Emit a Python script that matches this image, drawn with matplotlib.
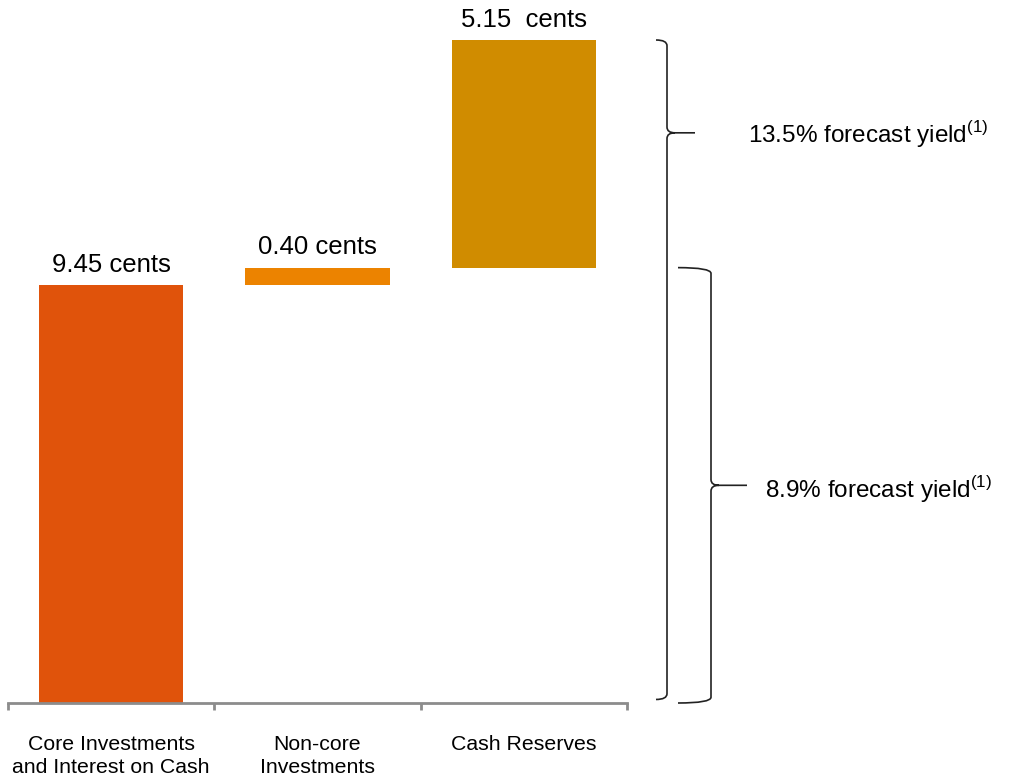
import matplotlib
matplotlib.use("Agg")
import matplotlib.pyplot as plt
from matplotlib.path import Path
from matplotlib.patches import PathPatch
from matplotlib.transforms import blended_transform_factory

plt.rcParams['font.family'] = ['Liberation Sans', 'DejaVu Sans']
plt.rcParams['mathtext.fontset'] = 'custom'
plt.rcParams['mathtext.rm'] = 'Liberation Sans'

# data
categories = ["Core Investments\nand Interest on Cash", "Non-core\nInvestments", "Cash Reserves"]
values = [9.45, 0.40, 5.15]
value_labels = ["9.45 cents", "0.40 cents", "5.15  cents"]
colors = ["#E0530B", "#EC8300", "#D08C00"]
yield_labels = ["13.5% forecast yield", "8.9% forecast yield"]

W, H = 1009, 776
fig = plt.figure(figsize=(W / 100, H / 100), dpi=100)
ax = fig.add_axes([8 / W, (H - 703) / H, 619 / W, 703 / H])

bottoms = [0, values[0], values[0] + values[1]]
x = range(len(values))
bars = ax.bar(x, values, bottom=bottoms, width=0.70, color=colors)

for i, (b, v, lab) in enumerate(zip(bottoms, values, value_labels)):
    ax.annotate(lab, (i, b + v), xytext=(0, 6), textcoords="offset points",
                ha="center", va="bottom", fontsize=18.5)

ax.set_xlim(-0.5, 2.5)
ax.set_ylim(0, 703 / 44.2)
ax.set_yticks([])
for s in ["top", "right", "left"]:
    ax.spines[s].set_visible(False)
ax.spines["bottom"].set_color("#8C8C8C")
ax.spines["bottom"].set_linewidth(2)
ax.set_xticks(list(x))
ax.set_xticklabels(categories, fontsize=15.3, linespacing=1.3)
ax.tick_params(axis="x", which="major", length=0, pad=23)
ax.set_xticks([-0.5, 0.5, 1.5, 2.5], minor=True)
ax.tick_params(axis="x", which="minor", length=5, width=2, color="#8C8C8C", direction="out")

# curly braces: x in figure pixels, y in data
tr = blended_transform_factory(fig.transFigure, ax.transData)


def brace(x0, x1, x2, ytop, ymid, ybot, r=0.13, d=8):
    x0, x1, x2, xd = x0 / W, x1 / W, x2 / W, (x1 + d) / W
    verts = [(x0, ytop), (x1, ytop), (x1, ytop - r),
             (x1, ymid + r), (x1, ymid), (xd, ymid),
             (x2, ymid),
             (xd, ymid), (x1, ymid), (x1, ymid - r),
             (x1, ybot + r), (x1, ybot), (x0, ybot)]
    codes = [Path.MOVETO, Path.CURVE3, Path.CURVE3,
             Path.LINETO, Path.CURVE3, Path.CURVE3,
             Path.LINETO,
             Path.MOVETO, Path.CURVE3, Path.CURVE3,
             Path.LINETO, Path.CURVE3, Path.CURVE3]
    fig.add_artist(PathPatch(Path(verts, codes), transform=tr, fill=False,
                             lw=1.2, edgecolor="#222222"))


total = sum(values)
core = values[0] + values[1]
brace(656, 667, 695, total, 12.9, 0.08)
brace(678, 711, 747, core, core / 2, 0.0)

fig.text(748 / W, 12.87, yield_labels[0] + r"$^{\mathrm{(1)}}$", transform=tr,
         fontsize=17.5, va="center", ha="left")
fig.text(765 / W, core / 2 - 0.1, yield_labels[1] + r"$^{\mathrm{(1)}}$", transform=tr,
         fontsize=17.5, va="center", ha="left")

fig.savefig("out.png", dpi=100)
